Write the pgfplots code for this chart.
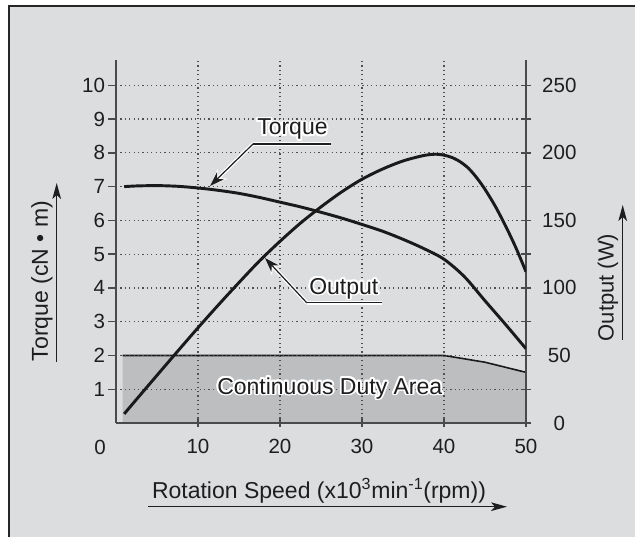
\documentclass[border=0pt]{standalone}
\usepackage{fontspec}
\setmainfont{Liberation Sans}
\usepackage{pgfplots}
\pgfplotsset{compat=1.18}
\usetikzlibrary{arrows.meta}
\definecolor{bg}{HTML}{DCDDDF}
\definecolor{duty}{HTML}{BDBEC0}
\definecolor{axgray}{HTML}{4A4A4A}
\definecolor{gridgray}{HTML}{505050}
\definecolor{curve}{HTML}{1A1A1A}
\definecolor{txt}{HTML}{1E1E1E}

\newcommand{\halo}[3]{%
  \foreach \a in {0,22.5,...,337.5}{\node[#1,text=white,shift={(\a:1.4pt)}] at #2 {#3};}
  \node[#1,text=txt] at #2 {#3};}

\begin{document}
\begin{tikzpicture}
\begin{scope}[x=0.75pt,y=0.75pt]
\useasboundingbox (0,0) rectangle (635,536);
\fill[white] (0,0) rectangle (635,536);
\fill[bg] (9,-5) rectangle (640,530);
\draw[line width=1.5pt, black!85] (9,-5) -- (9,530) -- (640,530);
\end{scope}

% Axis A: torque scale, fill, grid, left and bottom axes
\begin{axis}[
  at={(87pt,84.75pt)}, anchor=south west, scale only axis,
  width=307.5pt, height=272.25pt,
  xmin=0, xmax=50, ymin=0, ymax=10.75,
  axis x line*=bottom, axis y line*=left,
  axis line style={-, line width=1.3pt, axgray},
  axis on top,
  xtick={10,20,30,40,50}, ytick={1,2,3,4,5,6,7,8,9,10},
  xtick align=center, ytick align=outside,
  major tick length=6pt,
  tick style={line width=1pt, axgray},
  xmajorgrids, ymajorgrids,
  grid style={line width=0.9pt, gridgray, dash pattern=on 0.9pt off 2.4pt},
  ticklabel style={font=\fontsize{15.4}{18}\selectfont, text=txt},
  /pgf/number format/assume math mode=true,
  xticklabel style={anchor=north, inner sep=0pt, yshift=-9pt},
  yticklabel style={anchor=east, inner sep=0pt, xshift=-2pt},
]
\addplot[fill=duty, draw=none] coordinates {(0.8,0) (0.8,2) (40,2) (45,1.8) (50,1.5) (50,0)} -- cycle;
\addplot[line width=1.2pt, curve] coordinates {(0.8,2) (40,2) (45,1.8) (50,1.5)};
\end{axis}

% Axis B: output scale (W), right axis
\begin{axis}[
  at={(87pt,84.75pt)}, anchor=south west, scale only axis,
  width=307.5pt, height=272.25pt,
  xmin=0, xmax=50, ymin=0, ymax=268.75,
  axis x line=none, axis y line*=right,
  axis line style={-, line width=1.3pt, axgray},
  ytick={0,25,50,75,100,125,150,175,200,225,250},
  yticklabels={0,,50,,100,,150,,200,,250},
  ytick align=center, major tick length=8pt,
  tick style={line width=1pt, axgray},
  ticklabel style={font=\fontsize{15.4}{18}\selectfont, text=txt},
  /pgf/number format/assume math mode=true,
  yticklabel style={anchor=center, inner sep=0pt, xshift=21pt},
]
\addplot[line width=2.2pt, curve, smooth] coordinates {
(1,6.75) (2.5,17.5) (5,35.3) (7.5,53) (10,70.5) (12.5,87.5) (15,104)
(17.5,120) (20,134.5) (22.5,148) (25,160) (27.5,171) (30,180.5) (32.5,188)
(35,194) (37.5,198) (39,199) (40,198.3) (41,196.5) (42,193.3) (43,188.5)
(44,181.5) (45,173) (46.25,160.5) (47.5,146) (48.75,130) (50,112)};
\end{axis}

% Axis C: torque curve (hidden axis)
\begin{axis}[
  at={(87pt,84.75pt)}, anchor=south west, scale only axis,
  width=307.5pt, height=272.25pt,
  xmin=0, xmax=50, ymin=0, ymax=10.75,
  axis lines=none, ticks=none,
]
\addplot[line width=2.2pt, curve, smooth] coordinates {
(1,7.0) (2.5,7.02) (5,7.03) (7.5,7.01) (10,6.96) (12.5,6.89) (15,6.8)
(17.5,6.68) (20,6.54) (22.5,6.4) (25,6.24) (27.5,6.07) (30,5.88) (32.5,5.68)
(35,5.44) (37.5,5.17) (40,4.85) (42.5,4.33) (45,3.62) (47.5,2.92) (50,2.2)};
\end{axis}

\begin{scope}[x=0.75pt,y=0.75pt]
% zero label at the origin
\node[font=\fontsize{15.4}{18}\selectfont, text=txt, inner sep=0pt] at (100,89) {0};

% annotations
\halo{anchor=base west, inner sep=0pt, font=\fontsize{17.25}{20}\selectfont}{(257,401)}{Torque}
\draw[white, line width=2.8pt] (253,392) -- (331,392);
\draw[white, line width=2.8pt, -{Stealth[length=13pt,width=10pt]}] (253,392) -- (210,350);
\draw[txt, line width=0.9pt] (253,392) -- (331,392);
\draw[txt, line width=0.9pt, -{Stealth[length=11pt,width=7.5pt]}] (253,392) -- (210,350);

\halo{anchor=base west, inner sep=0pt, font=\fontsize{17.25}{20}\selectfont}{(309,242)}{Output}
\draw[white, line width=2.8pt] (306.7,233.3) -- (382,233.3);
\draw[white, line width=2.8pt, -{Stealth[length=13pt,width=10pt]}] (306.7,233.3) -- (265,278);
\draw[txt, line width=0.9pt] (306.7,233.3) -- (382,233.3);
\draw[txt, line width=0.9pt, -{Stealth[length=11pt,width=7.5pt]}] (306.7,233.3) -- (265,278);

\halo{anchor=base west, inner sep=0pt, font=\fontsize{17.25}{20}\selectfont}{(217,142)}{Continuous Duty Area}

% axis labels
\node[rotate=90, text=txt, font=\fontsize{17.25}{20}\selectfont] at (42,255) {Torque (cN • m)};
\draw[txt, line width=1pt, -{Stealth[length=12pt,width=6.5pt,inset=3pt]}] (56.7,174) -- (56.7,353);
\node[rotate=90, text=txt, font=\fontsize{16.5}{20}\selectfont] at (608,248.5) {Output (W)};
\draw[txt, line width=1pt, -{Stealth[length=12pt,width=6.5pt,inset=3pt]}] (622.7,196) -- (622.7,331);
\node[anchor=base, text=txt, font=\fontsize{17.25}{20}\selectfont] at (319,38) {Rotation Speed (x10\textsuperscript{3}min\textsuperscript{-1}(rpm))};
\draw[txt, line width=1pt, -{Stealth[length=12pt,width=6.5pt,inset=3pt]}] (148,29.3) -- (507,29.3);
\end{scope}
\end{tikzpicture}
\end{document}
